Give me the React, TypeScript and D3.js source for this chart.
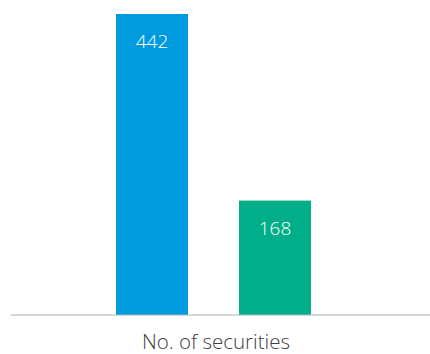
import React from "react";
import * as d3 from "d3";

const categories = ["A", "B"];
const values = [442, 168];
const colors = ["#009ADE", "#00AE8A"];
const axisLabel = "No. of securities";

const W = 430;
const H = 354;
const baseline = 315;

export default function App() {
  const x = d3.scaleBand<string>().domain(categories).range([65, 362]).paddingInner(0.415).paddingOuter(0.415);
  const y = d3.scaleLinear().domain([0, 442]).range([baseline, 14]);
  return (
    <svg width={W} height={H} style={{ position: "absolute", left: 0, top: 0 }}>
      <rect width={W} height={H} fill="#fff" />
      {categories.map((c, i) => (
        <g key={c}>
          <rect x={x(c)} y={y(values[i])} width={x.bandwidth()} height={baseline - y(values[i])} fill={colors[i]} />
          <text
            x={(x(c) as number) + x.bandwidth() / 2}
            y={y(values[i]) + 34}
            textAnchor="middle"
            fill="#fff"
            fontFamily="'Open Sans', sans-serif"
            fontWeight={300}
            fontSize={19}
          >
            {values[i]}
          </text>
        </g>
      ))}
      <line x1={11} x2={430} y1={baseline} y2={baseline} stroke="#b0b0b0" strokeWidth={1} />
      <text x={216} y={349} textAnchor="middle" fill="#404040" fontFamily="'Open Sans', sans-serif" fontWeight={300} fontSize={20.5}>
        {axisLabel}
      </text>
    </svg>
  );
}
